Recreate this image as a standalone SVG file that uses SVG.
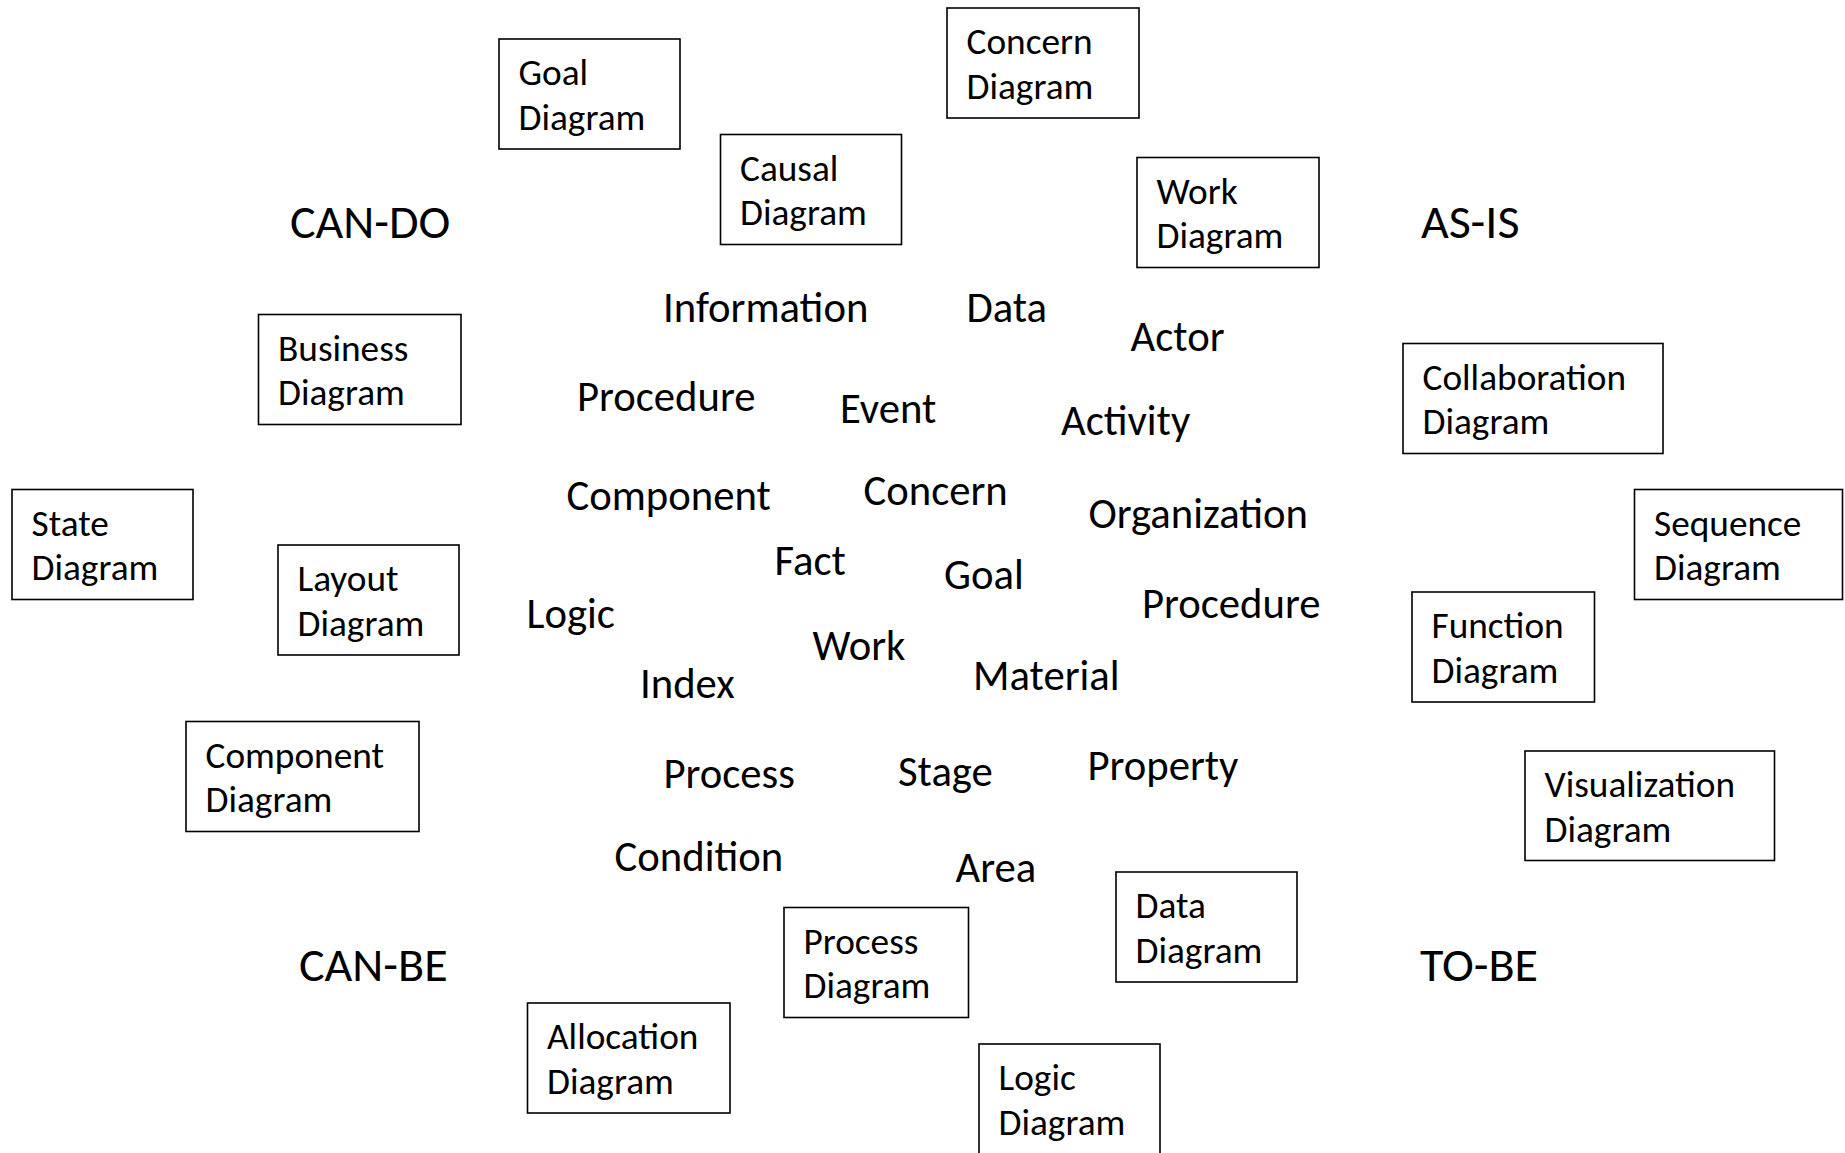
<svg xmlns="http://www.w3.org/2000/svg" width="1845" height="1153" viewBox="0 0 1845 1153">
<style>
  text { font-family: Carlito, Lato, "Liberation Sans", sans-serif; fill: #000; }
  .box { fill: #fff; stroke: #000; stroke-width: 1.6; }
  .bl { font-size: 37.3px; }
  .w { font-size: 42.7px; }
  .q { font-size: 48px; }
</style>
<rect width="1845" height="1153" fill="#fff"/>
<g id="connectors"></g>

<g id="quadrants">
  <g id="q-cando"><text class="q" x="290" y="237.5">CAN-DO</text></g>
  <g id="q-asis"><text class="q" x="1421" y="237.5">AS-IS</text></g>
  <g id="q-canbe"><text class="q" x="299" y="980.5">CAN-BE</text></g>
  <g id="q-tobe"><text class="q" x="1420" y="980.5">TO-BE</text></g>
</g>

<g id="diagrams">
  <g id="goal-diagram"><rect class="box" x="499" y="39" width="181" height="110"/><text class="bl" x="518.5" y="85">Goal</text><text class="bl" x="518.5" y="129.5">Diagram</text></g>
  <g id="concern-diagram"><rect class="box" x="947" y="8" width="192" height="110"/><text class="bl" x="966.5" y="54">Concern</text><text class="bl" x="966.5" y="98.5">Diagram</text></g>
  <g id="causal-diagram"><rect class="box" x="720.5" y="134.5" width="181" height="110"/><text class="bl" x="740" y="180.5">Causal</text><text class="bl" x="740" y="225">Diagram</text></g>
  <g id="work-diagram"><rect class="box" x="1137" y="157.5" width="182" height="110"/><text class="bl" x="1156.5" y="203.5">Work</text><text class="bl" x="1156.5" y="248">Diagram</text></g>
  <g id="business-diagram"><rect class="box" x="258.5" y="314.5" width="202.5" height="110"/><text class="bl" x="278" y="360.5">Business</text><text class="bl" x="278" y="405">Diagram</text></g>
  <g id="collaboration-diagram"><rect class="box" x="1403" y="343.5" width="260" height="110"/><text class="bl" x="1422.5" y="389.5">Collaboration</text><text class="bl" x="1422.5" y="434">Diagram</text></g>
  <g id="state-diagram"><rect class="box" x="12" y="489.5" width="181" height="110"/><text class="bl" x="31.5" y="535.5">State</text><text class="bl" x="31.5" y="580">Diagram</text></g>
  <g id="sequence-diagram"><rect class="box" x="1634.5" y="489.5" width="208" height="110"/><text class="bl" x="1654" y="535.5">Sequence</text><text class="bl" x="1654" y="580">Diagram</text></g>
  <g id="layout-diagram"><rect class="box" x="278" y="545" width="181" height="110"/><text class="bl" x="297.5" y="591">Layout</text><text class="bl" x="297.5" y="635.5">Diagram</text></g>
  <g id="function-diagram"><rect class="box" x="1412" y="592" width="182.5" height="110"/><text class="bl" x="1431.5" y="638">Function</text><text class="bl" x="1431.5" y="682.5">Diagram</text></g>
  <g id="component-diagram"><rect class="box" x="186" y="721.5" width="233" height="110"/><text class="bl" x="205.5" y="767.5">Component</text><text class="bl" x="205.5" y="812">Diagram</text></g>
  <g id="visualization-diagram"><rect class="box" x="1525" y="751" width="249.5" height="109.5"/><text class="bl" x="1544.5" y="797">Visualization</text><text class="bl" x="1544.5" y="841.5">Diagram</text></g>
  <g id="data-diagram"><rect class="box" x="1116" y="872" width="181" height="110"/><text class="bl" x="1135.5" y="918">Data</text><text class="bl" x="1135.5" y="962.5">Diagram</text></g>
  <g id="process-diagram"><rect class="box" x="784" y="907.5" width="184.5" height="110"/><text class="bl" x="803.5" y="953.5">Process</text><text class="bl" x="803.5" y="998">Diagram</text></g>
  <g id="allocation-diagram"><rect class="box" x="527.5" y="1003" width="202.5" height="110"/><text class="bl" x="547" y="1049">Allocation</text><text class="bl" x="547" y="1093.5">Diagram</text></g>
  <g id="logic-diagram"><rect class="box" x="979" y="1044" width="181" height="130"/><text class="bl" x="998.5" y="1090">Logic</text><text class="bl" x="998.5" y="1134.5">Diagram</text></g>
</g>

<g id="concepts">
  <g id="c-information"><text class="w" x="663" y="321.5">Information</text></g>
  <g id="c-data"><text class="w" x="966.5" y="321.5">Data</text></g>
  <g id="c-actor"><text class="w" x="1130.5" y="350.5">Actor</text></g>
  <g id="c-procedure-1"><text class="w" x="577" y="410.5">Procedure</text></g>
  <g id="c-event"><text class="w" x="840" y="422.5">Event</text></g>
  <g id="c-activity"><text class="w" x="1061" y="434.5">Activity</text></g>
  <g id="c-component"><text class="w" x="566.5" y="509.5">Component</text></g>
  <g id="c-concern"><text class="w" x="863.5" y="505">Concern</text></g>
  <g id="c-organization"><text class="w" x="1088.5" y="527.5">Organization</text></g>
  <g id="c-fact"><text class="w" x="774.5" y="574.5">Fact</text></g>
  <g id="c-goal"><text class="w" x="944" y="589">Goal</text></g>
  <g id="c-procedure-2"><text class="w" x="1142" y="617.5">Procedure</text></g>
  <g id="c-logic"><text class="w" x="526.5" y="627.5">Logic</text></g>
  <g id="c-work"><text class="w" x="812.5" y="659.5">Work</text></g>
  <g id="c-index"><text class="w" x="640" y="697.5">Index</text></g>
  <g id="c-material"><text class="w" x="973" y="690">Material</text></g>
  <g id="c-process"><text class="w" x="663.5" y="788">Process</text></g>
  <g id="c-stage"><text class="w" x="898" y="785.5">Stage</text></g>
  <g id="c-property"><text class="w" x="1087.5" y="779.5">Property</text></g>
  <g id="c-condition"><text class="w" x="614.5" y="871">Condition</text></g>
  <g id="c-area"><text class="w" x="955.5" y="881.5">Area</text></g>
</g>
</svg>
